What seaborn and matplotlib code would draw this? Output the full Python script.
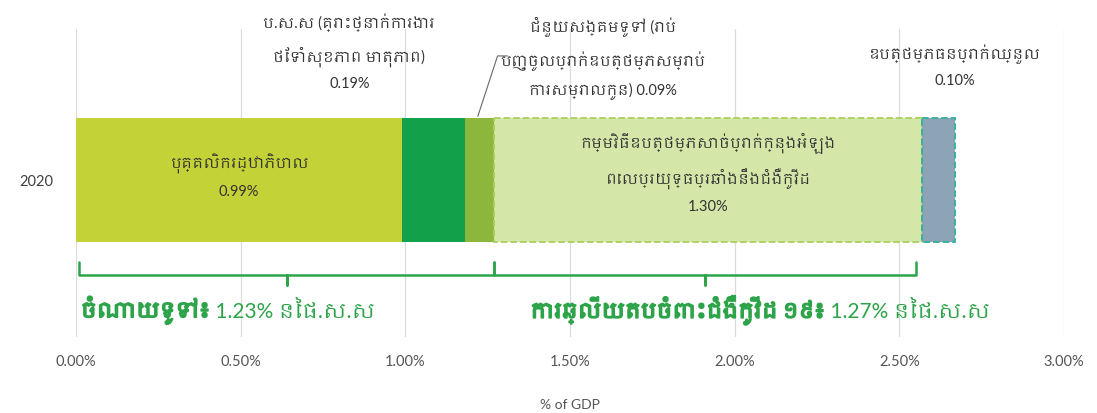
import matplotlib
matplotlib.use("Agg")
import matplotlib.pyplot as plt
import matplotlib.font_manager as fm
import matplotlib.patheffects as pe
import seaborn as sns
import numpy as np

years = ["2020"]
segment_labels = [
    "បុគ្គលិករដ្ឋាភិបាល",
    "ប.ស.ស (គ្រោះថ្នាក់ការងារ\nថែទាំសុខភាព មាតុភាព)",
    "ជំនួយសង្គមទូទៅ (រាប់\nបញ្ចូលប្រាក់ឧបត្ថម្ភសម្រាប់\nការសម្រាលកូន)",
    "កម្មវិធីឧបត្ថម្ភសាច់ប្រាក់ក្នុងអំឡុង\nពេលប្រយុទ្ធប្រឆាំងនឹងជំងឺកូវីដ",
    "ឧបត្ថម្ភធនប្រាក់ឈ្នួល",
]
segment_values = [0.99, 0.19, 0.09, 1.30, 0.10]
group_heads = ["ចំណាយទូទៅ៖", "ការឆ្លើយតបចំពោះជំងឺកូវីដ ១៩៖"]
group_shares = [1.23, 1.27]
gdp_word = "នៃផ.ស.ស"
x_ticks = [0.0, 0.5, 1.0, 1.5, 2.0, 2.5, 3.0]

colors = ["#C3D236", "#12A04A", "#8DB63C", "#D4E7A9", "#8DA3B6"]
edges = [None, None, None, "#A9CF5C", "#2FB09A"]
green = "#2EA44A"

sns.set_theme(style="white")
# use a Khmer font if one happens to exist
khmer = sorted({f.name for f in fm.fontManager.ttflist if "Khmer" in f.name})
plt.rcParams["font.family"] = ["Lato"] + khmer + ["DejaVu Sans"]

fig = plt.figure(figsize=(10.97, 4.14), dpi=100)
ax = fig.add_axes([0.0693, 0.1836, 0.9006, 0.744])

# stacked bar: one seaborn bar per segment, shifted to its running start
starts = np.concatenate([[0], np.cumsum(segment_values)[:-1]])
ends = starts + np.array(segment_values)
for val, left, c, ec in zip(segment_values, starts, colors, edges):
    sns.barplot(x=[val], y=years, orient="h", color=c, width=0.8, ax=ax,
                edgecolor=ec if ec else c, linewidth=1.3 if ec else 0,
                linestyle="--" if ec else "-", saturation=1)
    ax.patches[-1].set_x(left)
    ax.patches[-1].set_zorder(3)

ax.set_xlim(0, 3.0)
ax.set_ylim(1.013, -0.974)
ax.set_xticks(x_ticks)
ax.set_xticklabels([f"{v:.2f}%" for v in x_ticks])
ax.grid(axis="x", color="#DADDE0", lw=0.9)
ax.set_axisbelow(True)
for s in ax.spines.values():
    s.set_visible(False)
ax.tick_params(axis="x", length=0, pad=12, labelsize=10.5, labelcolor="#555555")
ax.tick_params(axis="y", length=0, pad=16, labelsize=10.5, labelcolor="#404040")
ax.set_xlabel("% of GDP", fontsize=10, color="#555555", labelpad=22)
ax.set_ylabel("")

txt = dict(ha="center", va="center", fontsize=10.5, color="#333333", linespacing=1.95)

# labels inside the bar
ax.text(starts[0] + segment_values[0] / 2, -0.03,
        f"{segment_labels[0]}\n{segment_values[0]:.2f}%", zorder=5, **txt)
ax.text(starts[3] + segment_values[3] / 2, -0.05,
        f"{segment_labels[3]}\n{segment_values[3]:.2f}%", zorder=5, **txt)

# labels above the bar
ax.text(0.83, -0.83, f"{segment_labels[1]}\n{segment_values[1]:.2f}%", **txt)
ax.text(1.60, -0.79, f"{segment_labels[2]} {segment_values[2]:.2f}%", **txt)
ax.text(2.67, -0.74, f"{segment_labels[4]}\n{segment_values[4]:.2f}%", **txt)

# leader line for the small segment
ax.plot([starts[2] + 0.04, 1.28, 1.31], [-0.41, -0.80, -0.80],
        color="#666666", lw=0.8, zorder=4)

# braces under the bar
groups = [(0.01, ends[2]), (ends[2], ends[3] - 0.02)]
top, h, tip = 0.53, 0.61, 0.68
for x0, x1 in groups:
    mid = (x0 + x1) / 2
    ax.plot([x0, x0, mid, mid, mid, x1, x1], [top, h, h, tip, h, h, top],
            color=green, lw=1.8, solid_joinstyle="round", zorder=4)

# group totals: heavy head (stroke fakes bold), plain number
for x, head, share in zip([0.015, 1.38], group_heads, group_shares):
    t = ax.text(x, 0.84, head, ha="left", va="center", fontsize=15,
                fontweight="bold", color=green,
                path_effects=[pe.withStroke(linewidth=1.3, foreground=green)])
    ax.annotate(f" {share:.2f}% {gdp_word}", xy=(1, 0.5), xycoords=t,
                ha="left", va="center", fontsize=15, color=green)

fig.savefig("out.png", dpi=100)
